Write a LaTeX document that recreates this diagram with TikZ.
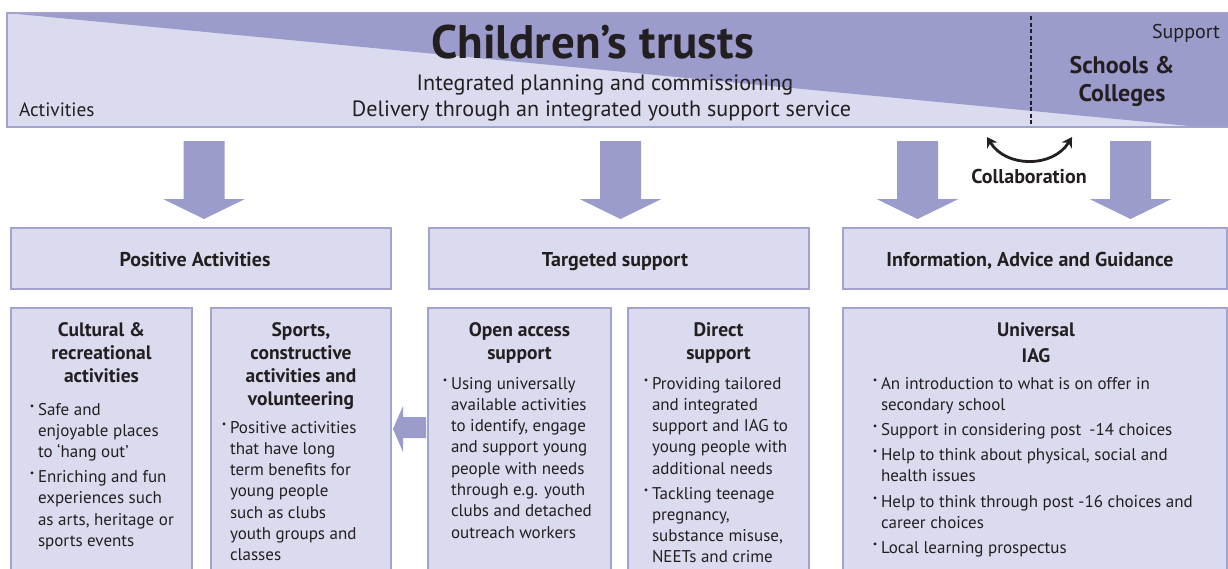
\documentclass[tikz,border=0pt]{standalone}
\usepackage{fontspec}
\setmainfont{PT Sans}
\usetikzlibrary{arrows.meta}
\definecolor{lite}{RGB}{218,219,238}
\definecolor{dark}{RGB}{155,155,204}
\definecolor{edgec}{RGB}{163,163,208}
\definecolor{ink}{RGB}{35,31,32}
\newcommand{\bul}{\makebox[0pt][r]{\raisebox{6pt}{\fontsize{10}{10}\selectfont\textbullet}\hspace{3.5pt}}}
\newcommand{\bodyf}{\fontsize{17}{21.3}\selectfont}
\newcommand{\titf}{\fontsize{19.5}{23}\selectfont\bfseries}
\newcommand{\lefttab}[1]{\begin{tabular}[t]{@{}l@{}}#1\end{tabular}}
\newcommand{\centtab}[1]{\begin{tabular}[t]{@{}c@{}}#1\end{tabular}}
\begin{document}
\begin{tikzpicture}[x=1pt,y=-1pt,
  every node/.style={text=ink, inner sep=0pt, outer sep=0pt},
  boxst/.style={fill=lite, draw=edgec, line width=1.5pt},
  body/.style={anchor=base west, font=\bodyf},
  tit/.style={anchor=base, font=\titf},
  hdrtext/.style={anchor=base, font=\fontsize{20}{22}\selectfont\bfseries},
  downarr/.pic={\fill[dark] (-20.5,0) -- (20.5,0) -- (20.5,58) -- (41,58) -- (0,78) -- (-41,58) -- (-20.5,58) -- cycle;}
]
\useasboundingbox (0,0) rectangle (1228,568);
\clip (0,0) rectangle (1228,568);

% banner
\fill[lite] (7,13) rectangle (1230,127);
\fill[dark] (7,13) -- (1230,13) -- (1230,127) -- (1200,127) -- cycle;
\draw[edgec, line width=1.5pt] (1230,13) -- (7,13) -- (7,127) -- (1230,127);
\draw[ink, line width=1.3pt, dash pattern=on 4pt off 2.5pt] (1031,16) -- (1031,124);

\node[anchor=base, font=\fontsize{47}{49}\selectfont\bfseries] (title) at (592.5,58) {Children’s trusts};
\node[anchor=base, font=\fontsize{22.2}{24}\selectfont] (plan) at (605,90) {Integrated planning and commissioning};
\node[anchor=base, font=\fontsize{22.1}{24}\selectfont] (deliv) at (601.5,116) {Delivery through an integrated youth support service};
\node[anchor=base west, font=\fontsize{19.3}{22}\selectfont] (act) at (19,116) {Activities};
\node[anchor=base east, font=\fontsize{20}{22}\selectfont] (supp) at (1220,38) {Support};
\node[anchor=base, font=\fontsize{24}{28}\selectfont\bfseries] (schools) at (1122,73) {\centtab{Schools \&\\Colleges}};

% down arrows
\pic at (204,141) {downarr};
\pic at (620.5,141) {downarr};
\pic at (917.5,141) {downarr};
\pic at (1130.5,141) {downarr};

% collaboration
\coordinate (cl) at (987,137);
\coordinate (cr) at (1072,137);
\draw[ink, line width=2.8pt, {Stealth[length=10pt,width=12pt]}-{Stealth[length=10pt,width=12pt]}] (cl) .. controls (1006,168) and (1053,168) .. (cr);
\node[anchor=base, font=\fontsize{20}{22}\selectfont\bfseries] (collab) at (1029,183) {Collaboration};

% header boxes
\draw[boxst] (11,228) rectangle (391,289);
\draw[boxst] (429,228) rectangle (809,289);
\draw[boxst] (843,228) rectangle (1227,289);
\node[hdrtext] (h1) at (195,266) {Positive Activities};
\node[hdrtext] (h2) at (615,266) {Targeted support};
\node[hdrtext] (h3) at (1030,266) {Information, Advice and Guidance};

% lower boxes
\draw[boxst] (11,308) rectangle (192,580);
\draw[boxst] (211,308) rectangle (391,580);
\draw[boxst] (428,308) rectangle (611,580);
\draw[boxst] (628,308) rectangle (809,580);
\draw[boxst] (843,308) rectangle (1227,580);

% left block arrow
\fill[dark] (393,429) -- (403,406) -- (403,417) -- (426,417) -- (426,438) -- (403,438) -- (403,452) -- cycle;

% box A
\node[tit] (ta) at (101.5,336) {\centtab{Cultural \&\\recreational\\activities}};
\node[body] (a1) at (38,415) {\lefttab{\bul Safe and\\enjoyable places\\to ‘hang out’}};
\node[body] (a2) at (38,482.5) {\lefttab{\bul Enriching and fun\\experiences such\\as arts, heritage or\\sports events}};

% box B
\node[tit] (tb) at (301,336) {\centtab{Sports,\\constructive\\activities and\\volunteering}};
\node[body] (b1) at (230,433) {\lefttab{\bul Positive activities\\that have long\\term benefits for\\young people\\such as clubs\\youth groups and\\classes}};

% box C
\node[tit] (tc) at (519.5,336) {\centtab{Open access\\support}};
\node[body] (c1) at (451,389) {\lefttab{\bul Using universally\\available activities\\to identify, engage\\and support young\\people with needs\\through e.g. youth\\clubs and detached\\outreach workers}};

% box D
\node[tit] (td) at (718.5,336) {\centtab{Direct\\support}};
\node[body] (d1) at (652,389) {\lefttab{\bul Providing tailored\\and integrated\\support and IAG to\\young people with\\additional needs}};
\node[body] (d2) at (652,499) {\lefttab{\bul Tackling teenage\\pregnancy,\\substance misuse,\\NEETs and crime}};

% box E
\node[tit, font=\fontsize{19.5}{26}\selectfont\bfseries] (te) at (1036,336) {\centtab{Universal\\IAG}};
\node[body] (e1) at (881,389) {\lefttab{\bul An introduction to what is on offer in\\secondary school}};
\node[body] (e2) at (881,435) {\lefttab{\bul Support in considering post\hspace{8pt}-14 choices}};
\node[body] (e3) at (881,460) {\lefttab{\bul Help to think about physical, social and\\health issues}};
\node[body] (e4) at (881,507) {\lefttab{\bul Help to think through post -16 choices and\\career choices}};
\node[body] (e5) at (881,553) {\lefttab{\bul Local learning prospectus}};
\end{tikzpicture}
\end{document}
